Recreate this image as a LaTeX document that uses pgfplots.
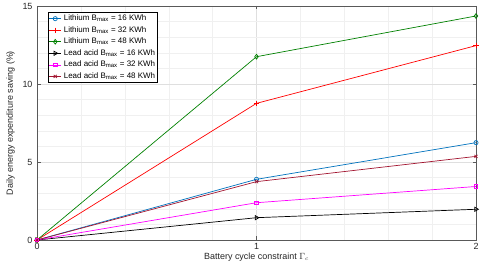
\documentclass[border=0pt]{standalone}
\usepackage{pgfplots}
\pgfplotsset{compat=1.18}
\usepackage{fontspec}
\setmainfont{Liberation Sans}

\definecolor{mblue}{rgb}{0,0.447,0.741}
\definecolor{mred}{rgb}{1,0,0}
\definecolor{mgreen}{rgb}{0.0,0.5,0.0}
\definecolor{mmag}{rgb}{1,0,1}
\definecolor{mbrown}{rgb}{0.635,0.078,0.184}

\begin{document}
\begin{tikzpicture}
\begin{axis}[
  scale only axis,
  width=439bp, height=234bp,
  xmin=0, xmax=2, ymin=0, ymax=15,
  xtick={0,1,2}, ytick={0,5,10,15},
  minor x tick num=4, minor y tick num=4,
  grid=both,
  major grid style={gray!25, line width=0.4pt},
  minor grid style={gray!12, line width=0.3pt},
  axis line style={gray!70!black, line width=0.5pt},
  tick style={gray!70!black},
  tick align=inside,
  minor tick length=0pt,
  major tick length=3.5bp,
  /pgf/number format/assume math mode=true,
  tick label style={font=\fontsize{9}{10}\selectfont, text=gray!30!black},
  yticklabel style={xshift=-1bp},
  xlabel={Battery cycle constraint $\Gamma_c$},
  ylabel={Daily energy expenditure saving (\%)},
  label style={font=\fontsize{9}{10}\selectfont, text=gray!30!black},
  xlabel style={yshift=4pt},
  ylabel style={yshift=1pt},
  legend style={at={(0.025,0.973)}, anchor=north west,
    font=\fontsize{8}{8.5}\selectfont, draw=black, line width=0.4pt,
    inner sep=0.5pt, row sep=0.3pt, cells={anchor=west}},
  legend image code/.code={
    \draw[mark repeat=2, mark phase=2] plot coordinates {(0cm,0cm) (0.22cm,0cm) (0.44cm,0cm)};},
  every axis plot/.append style={line width=0.7pt, mark size=2.1pt},
]
\addplot[mblue, mark=o, mark options={draw=mblue}] coordinates {(0,0) (1,3.89) (2,6.24)};
\addlegendentry{Lithium B$_{\mathrm{max}}$ = 16 KWh}
\addplot[mred, mark=+, mark size=2.6pt, mark options={draw=mred}] coordinates {(0,0) (1,8.76) (2,12.46)};
\addlegendentry{Lithium B$_{\mathrm{max}}$ = 32 KWh}
\addplot[mgreen, mark=diamond, mark size=2.4pt, mark options={draw=mgreen}] coordinates {(0,0) (1,11.75) (2,14.36)};
\addlegendentry{Lithium B$_{\mathrm{max}}$ = 48 KWh}
\addplot[black, mark=triangle, mark size=2.4pt, mark options={rotate=-90, draw=black}] coordinates {(0,0) (1,1.43) (2,1.97)};
\addlegendentry{Lead acid B$_{\mathrm{max}}$ = 16 KWh}
\addplot[mmag, mark=square, mark size=1.8pt, mark options={draw=mmag}] coordinates {(0,0) (1,2.39) (2,3.43)};
\addlegendentry{Lead acid B$_{\mathrm{max}}$ = 32 KWh}
\addplot[mbrown, mark=x, mark size=2.2pt, mark options={draw=mbrown}] coordinates {(0,0) (1,3.74) (2,5.36)};
\addlegendentry{Lead acid B$_{\mathrm{max}}$ = 48 KWh}
\coordinate (frameLL) at (rel axis cs:0,0);
\coordinate (frameUR) at (rel axis cs:1,1);
\end{axis}
% page frame: margins around the plotting area
\pgfresetboundingbox
\path ([xshift=-37bp,yshift=-25bp]frameLL) rectangle ([xshift=8bp,yshift=6bp]frameUR);
\end{tikzpicture}
\end{document}
